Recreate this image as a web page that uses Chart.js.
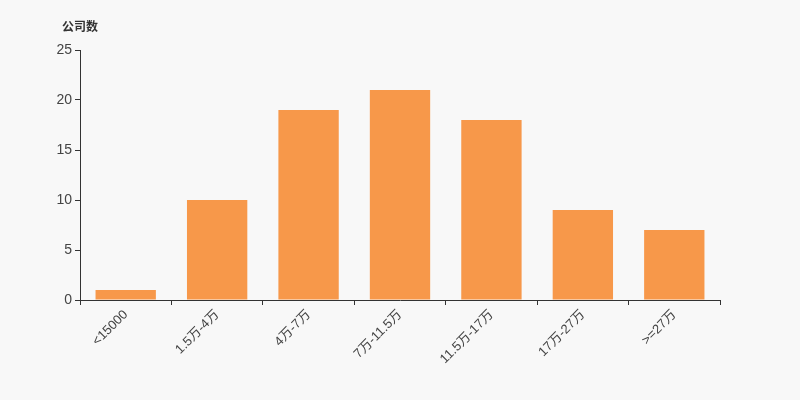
<!DOCTYPE html>
<html>
<head>
<meta charset="utf-8">
<script src="https://cdn.jsdelivr.net/npm/chart.js@4"></script>
<style>
  html, body { margin: 0; padding: 0; background: #f8f8f8; }
  #wrap { width: 800px; height: 400px; }
</style>
</head>
<body>
<div id="wrap"><canvas id="myChart" width="800" height="400"></canvas></div>
<script>
// dữ liệu
const categories = ['<15000', '1.5万-4万', '4万-7万', '7万-11.5万', '11.5万-17万', '17万-27万', '>=27万'];
const companyCounts = [1, 10, 19, 21, 18, 9, 7];
const yTicks = [0, 5, 10, 15, 20, 25];

const fontFamily = "'Liberation Sans', 'Noto Sans CJK SC', sans-serif";

// vẽ tên trục Y ở góc trên
const axisTitlePlugin = {
    id: 'axisTitle',
    afterDraw(chart) {
        const ctx = chart.ctx;
        ctx.save();
        ctx.font = 'bold 12px ' + fontFamily;
        ctx.fillStyle = '#333';
        ctx.textBaseline = 'middle';
        ctx.textAlign = 'left';
        ctx.fillText('公司数', 62, 28);
        ctx.restore();
    }
};

const ctx = document.getElementById('myChart').getContext('2d');
new Chart(ctx, {
    type: 'bar',
    data: {
        labels: categories,
        datasets: [{
            label: '公司数',
            data: companyCounts,
            backgroundColor: '#f7984a',
            categoryPercentage: 1,
            barPercentage: 0.66
        }]
    },
    options: {
        responsive: false,
        animation: false,
        layout: { padding: { left: 0, right: 80, top: 50, bottom: 0 } },
        plugins: {
            legend: { display: false },
            tooltip: { enabled: false }
        },
        scales: {
            x: {
                offset: true,
                grid: { offset: true, drawOnChartArea: false, drawTicks: true, tickLength: 5, color: '#333' },
                border: { color: '#333', width: 1 },
                ticks: {
                    color: '#444',
                    font: { size: 13, family: fontFamily },
                    maxRotation: 45,
                    minRotation: 45,
                    autoSkip: false,
                    padding: 2
                },
                afterFit(scale) { scale.height = 100; }
            },
            y: {
                min: 0,
                max: 25,
                afterBuildTicks(scale) { scale.ticks = yTicks.map(v => ({ value: v })); },
                grid: { drawOnChartArea: false, drawTicks: true, tickLength: 5, color: '#333' },
                border: { color: '#333', width: 1 },
                ticks: {
                    color: '#444',
                    font: { size: 14, family: fontFamily },
                    padding: 3
                },
                afterFit(scale) { scale.width = 80; }
            }
        }
    },
    plugins: [axisTitlePlugin]
});
</script>
</body>
</html>
